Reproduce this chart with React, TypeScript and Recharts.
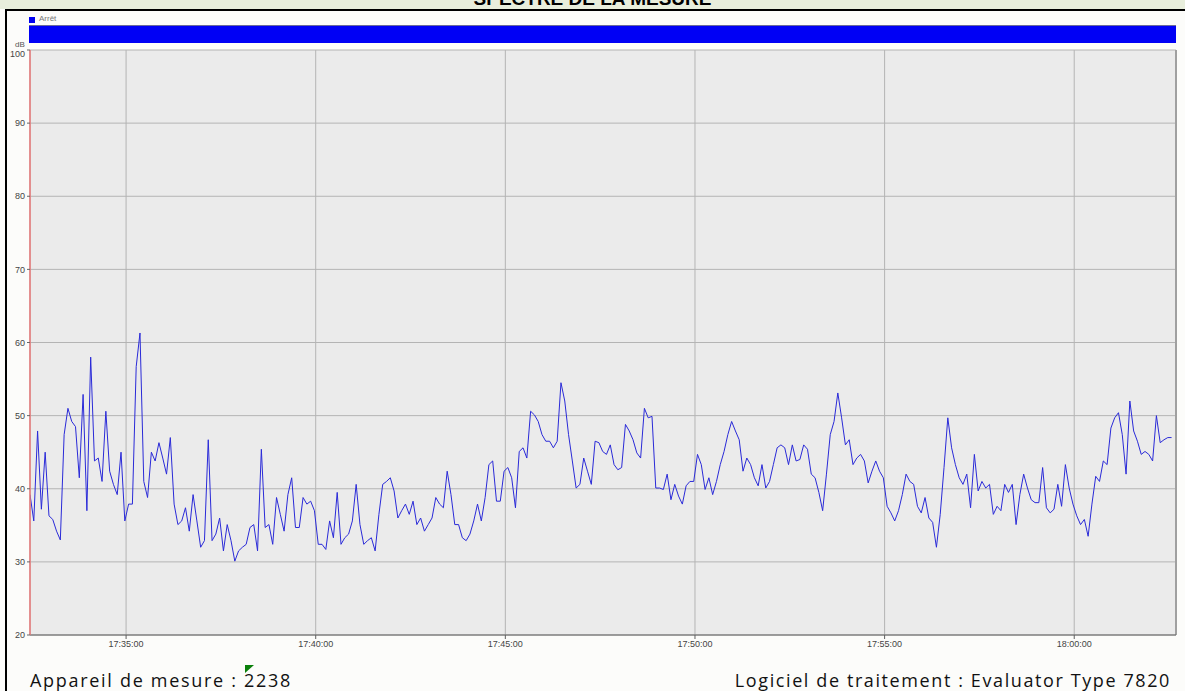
import { LineChart, Line, XAxis, YAxis, CartesianGrid, ReferenceLine } from 'recharts'

// secondes depuis 17:00:00 ; un point toutes les 6 s
const START_SEC = 1948
const STEP_SEC = 6
const END_SEC = 3761

// niveaux relevés (dB), par tranche
const levels1732 = [
  39.2, 35.6, 47.9, 37.2, 45, 36.3, 35.8, 34.2, 33, 47.4,
  51, 49.2, 48.5, 41.5, 52.9, 37, 58, 43.8, 44.2, 41,
  50.6, 42.4, 40.6, 39.2, 45, 35.6, 37.9, 37.9, 56.7, 61.3,
  41, 38.8, 45, 43.8, 46.3, 44.2, 42, 47, 37.9, 35.1,
  35.6, 37.4, 34.2, 39.2, 35.6, 32, 32.9, 46.7, 32.9, 33.8,
  36, 31.5, 35.1, 32.9, 30.1, 31.5, 32, 32.4, 34.7, 35.1,
  31.5, 45.4, 34.7, 35.1, 32.4, 38.8, 36.5, 34.2, 39.2, 41.5,
  34.7, 34.7, 38.8, 37.9, 38.3, 37, 32.4,
]
const levels1740 = [
  32.4, 31.7, 35.6, 33.3, 39.5, 32.4, 33.3, 33.8, 35.6, 40.6,
  35.1, 32.4, 32.9, 33.3, 31.5, 36.5, 40.6, 41, 41.5, 39.7,
  36, 37, 37.9, 36.5, 38.3, 35.1, 36, 34.2, 35.1, 36,
  38.8, 37.9, 37.4, 42.4, 39.2, 35.1, 35.1, 33.3, 32.9, 33.8,
  35.6, 37.9, 35.6, 38.8, 43.3, 43.8, 38.3, 38.3, 42.4, 42.9,
  41.5, 37.4, 45.1, 45.6, 44.2, 50.6, 50.1, 49.2, 47.4, 46.5,
  46.5, 45.6, 46.5, 54.5, 52, 47.4, 43.8, 40.1, 40.6, 44.2,
  42.4, 40.6, 46.5, 46.3,
]
const levels1748 = [
  45.1, 44.7, 46, 43.3, 42.6, 42.9, 48.8, 47.9, 46.7, 44.9,
  44.2, 51, 49.7, 49.9, 40.1, 40.1, 39.9, 42, 38.5, 40.6,
  39, 37.9, 40.4, 41, 41, 44.7, 43.3, 39.9, 41.5, 39.2,
  41, 43.3, 45.1, 47.4, 49.2, 47.9, 46.7, 42.4, 44.2, 43.3,
  41.5, 40.4, 43.3, 40.1, 41, 43.3, 45.6, 46, 45.6, 43.3,
  46, 43.8, 44, 46, 45.4, 42, 41.5, 39.5, 37, 42,
  47.4, 49.2, 53.1, 49.7, 46, 46.7, 43.3, 44.2, 44.7, 43.8,
  40.8, 42.4, 43.8, 42.4, 41.5, 37.6, 36.7, 35.6,
]
const levels1756 = [
  37, 39.2, 42, 41, 40.6, 37.6, 36.7, 38.8, 36, 35.4,
  32, 36.5, 42.9, 49.7, 45.6, 43.3, 41.5, 40.6, 42, 37.4,
  44.7, 39.7, 41, 40.1, 40.6, 36.5, 37.6, 37, 40.6, 39.5,
  40.6, 35.1, 39.2, 42, 40.1, 38.5, 38.1, 38.1, 42.9, 37.4,
  36.7, 37.2, 40.6, 37.6, 43.3, 40.1, 37.9, 36.3, 35.1, 35.8,
  33.5, 37.9, 41.7, 41, 43.8, 43.3, 48.3, 49.7, 50.4, 47.4,
  42, 52, 47.9, 46.5, 44.7, 45.1, 44.7, 43.8, 50, 46.3,
  46.7, 47, 47,
]

const X_TICKS = [2100, 2400, 2700, 3000, 3300, 3600]
const Y_TICKS = [20, 30, 40, 50, 60, 70, 80, 90, 100]

const levels = [...levels1732, ...levels1740, ...levels1748, ...levels1756]
const chartData = levels.map((db, i) => ({ t: START_SEC + i * STEP_SEC, db }))

function formatClock(sec: number) {
  const total = 17 * 3600 + sec
  const h = Math.floor(total / 3600)
  const m = Math.floor((total % 3600) / 60)
  const s = total % 60
  return `${h}:${String(m).padStart(2, '0')}:${String(s).padStart(2, '0')}`
}

const tickFont = { fontSize: 9, fill: '#444', fontFamily: '"Liberation Sans Narrow", "Liberation Sans", Arial' }

// le 100 est décalé vers le bas comme dans l'original
function YTick(props: any) {
  const { x, y, payload } = props
  const dy = payload.value === 100 ? 4 : 0
  return (
    <text x={x} y={y + dy} dy="0.355em" textAnchor="end" {...tickFont}>
      {payload.value}
    </text>
  )
}

export default function App() {
  return (
    <div style={{ position: 'absolute', left: 0, top: 0, width: 1185, height: 691, background: '#fcfcfa', overflow: 'hidden' }}>
      {/* bandeau titre (coupé en haut) */}
      <div style={{ position: 'absolute', left: 0, top: 0, width: 1185, height: 9, background: '#e8eedc', overflow: 'hidden' }}>
        <div
          style={{
            position: 'absolute', left: 0, top: -11, width: 1185, textAlign: 'center',
            fontFamily: '"Liberation Sans", Arial', fontWeight: 'bold', fontSize: 19, lineHeight: '19px', color: '#000',
          }}
        >
          SPECTRE DE LA MESURE
        </div>
      </div>
      <div style={{ position: 'absolute', left: 5, top: 9, width: 1180, height: 2, background: '#000' }} />
      <div style={{ position: 'absolute', left: 5, top: 9, width: 2, height: 682, background: '#000' }} />

      {/* légende + bande d'état */}
      <div style={{ position: 'absolute', left: 29, top: 17, width: 6, height: 6, background: '#0000f0' }} />
      <div style={{ position: 'absolute', left: 39, top: 14, fontSize: 8, color: '#777', fontFamily: '"Liberation Sans", Arial' }}>Arrêt</div>
      <div style={{ position: 'absolute', left: 29, top: 25, width: 1147, height: 18, background: '#0000f5', borderTop: '1px solid #6a6a9a', boxSizing: 'border-box' }} />
      <div style={{ position: 'absolute', left: 15, top: 41, fontSize: 8, lineHeight: '8px', color: '#555', fontFamily: '"Liberation Sans Narrow", Arial' }}>dB</div>

      <div style={{ position: 'absolute', left: 0, top: 0 }}>
        <LineChart width={1185} height={691} data={chartData} margin={{ top: 50, right: 9, left: 5, bottom: 26 }}>
          <CartesianGrid stroke="#b4b4b4" fill="#ebebeb" />
          <XAxis
            dataKey="t"
            type="number"
            domain={[START_SEC, END_SEC]}
            ticks={X_TICKS}
            tickFormatter={formatClock}
            allowDataOverflow
            height={30}
            stroke="#606060"
            tickSize={4}
            tick={tickFont}
          />
          <YAxis
            type="number"
            domain={[20, 100]}
            ticks={Y_TICKS}
            width={25}
            allowDataOverflow
            axisLine={{ stroke: '#e87878', strokeWidth: 1.5 }}
            tickLine={{ stroke: '#666' }}
            tickSize={3}
            tick={<YTick />}
          />
          <ReferenceLine x={END_SEC} stroke="#a0a0a0" strokeWidth={2} />
          <Line type="linear" dataKey="db" stroke="#2a2ad8" strokeWidth={1} dot={false} isAnimationActive={false} />
        </LineChart>
      </div>

      {/* pied de page */}
      <svg style={{ position: 'absolute', left: 245, top: 665 }} width={10} height={9}>
        <polygon points="0,0 9,0 0,8" fill="#0a800a" />
      </svg>
      <div style={{ position: 'absolute', left: 30, top: 668, fontSize: 18, letterSpacing: 1.7, fontFamily: '"Open Sans", Arial', color: '#111', whiteSpace: 'nowrap' }}>
        Appareil de mesure : 2238
      </div>
      <div style={{ position: 'absolute', right: 14, top: 668, fontSize: 18, letterSpacing: 1.6, fontFamily: '"Open Sans", Arial', color: '#111', whiteSpace: 'nowrap' }}>
        Logiciel de traitement : Evaluator Type 7820
      </div>
    </div>
  )
}
